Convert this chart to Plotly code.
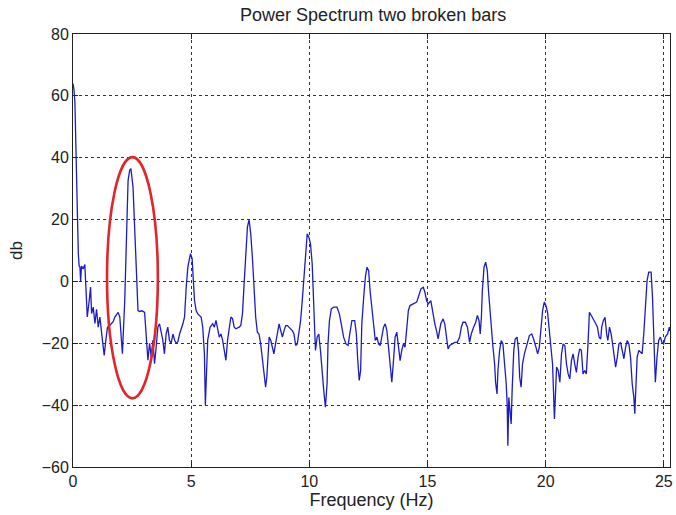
import plotly.graph_objects as go

freq_hz = [
    0.0, 0.04, 0.08, 0.11, 0.155, 0.2, 0.225, 0.26, 0.295, 0.323, 0.36, 0.43, 0.5, 0.548,
    0.604, 0.688, 0.744, 0.786, 0.856, 0.927, 0.997, 1.067, 1.137, 1.207, 1.278, 1.32, 1.39,
    1.46, 1.53, 1.63, 1.70, 1.77, 1.84, 1.91, 1.98, 2.05, 2.09, 2.19, 2.26, 2.30, 2.33, 2.40,
    2.45, 2.54, 2.61, 2.68, 2.75, 2.82, 2.92, 3.03, 3.10, 3.17, 3.24, 3.31, 3.38, 3.45, 3.52,
    3.59, 3.66, 3.73, 3.80, 3.87, 3.94, 4.01, 4.08, 4.15, 4.23, 4.30, 4.37, 4.44, 4.51, 4.65,
    4.72, 4.79, 4.86, 4.97, 5.04, 5.10, 5.14, 5.21, 5.28, 5.42, 5.49, 5.56, 5.60, 5.70, 5.80,
    5.91, 5.98, 6.05, 6.12, 6.19, 6.26, 6.33, 6.40, 6.47, 6.54, 6.61, 6.68, 6.75, 6.82, 6.89,
    7.03, 7.10, 7.17, 7.24, 7.31, 7.38, 7.45, 7.52, 7.59, 7.66, 7.73, 7.80, 7.87, 7.94, 8.01,
    8.08, 8.15, 8.20, 8.25, 8.30, 8.37, 8.44, 8.50, 8.58, 8.65, 8.72, 8.79, 8.86, 8.93, 9.00,
    9.07, 9.14, 9.21, 9.28, 9.35, 9.42, 9.49, 9.56, 9.63, 9.70, 9.77, 9.84, 9.91, 9.98, 10.05,
    10.12, 10.19, 10.26, 10.33, 10.40, 10.47, 10.54, 10.61, 10.68, 10.75, 10.79, 10.85, 10.93,
    11.03, 11.17, 11.27, 11.35, 11.45, 11.55, 11.64, 11.71, 11.80, 11.92, 11.99, 12.04, 12.11,
    12.17, 12.22, 12.30, 12.37, 12.44, 12.51, 12.57, 12.65, 12.72, 12.79, 12.86, 12.93, 13.00,
    13.07, 13.14, 13.21, 13.28, 13.35, 13.42, 13.49, 13.56, 13.63, 13.70, 13.77, 13.84, 13.91,
    13.98, 14.05, 14.12, 14.19, 14.26, 14.40, 14.54, 14.61, 14.72, 14.82, 14.89, 14.96, 15.03,
    15.14, 15.24, 15.31, 15.38, 15.45, 15.56, 15.66, 15.73, 15.80, 15.87, 15.94, 16.04, 16.15,
    16.26, 16.36, 16.43, 16.50, 16.60, 16.69, 16.78, 16.85, 16.95, 17.04, 17.11, 17.18, 17.23,
    17.28, 17.32, 17.39, 17.46, 17.53, 17.58, 17.64, 17.70, 17.77, 17.84, 17.88, 17.94, 17.98,
    18.05, 18.12, 18.19, 18.26, 18.33, 18.37, 18.40, 18.44, 18.48, 18.54, 18.58, 18.65, 18.71,
    18.79, 18.85, 18.90, 18.96, 19.02, 19.10, 19.17, 19.24, 19.31, 19.41, 19.49, 19.59, 19.66,
    19.73, 19.80, 19.87, 19.94, 20.01, 20.08, 20.15, 20.22, 20.29, 20.33, 20.37, 20.42, 20.46,
    20.53, 20.60, 20.67, 20.74, 20.81, 20.88, 20.95, 21.02, 21.09, 21.16, 21.23, 21.30, 21.37,
    21.44, 21.51, 21.58, 21.65, 21.72, 21.79, 21.85, 21.93, 22.02, 22.12, 22.19, 22.26, 22.33,
    22.37, 22.44, 22.51, 22.58, 22.63, 22.70, 22.77, 22.83, 22.89, 22.96, 23.03, 23.10, 23.17,
    23.24, 23.31, 23.38, 23.45, 23.52, 23.59, 23.66, 23.73, 23.77, 23.83, 23.87, 23.94, 24.01,
    24.08, 24.15, 24.22, 24.29, 24.36, 24.46, 24.52, 24.57, 24.64, 24.71, 24.78, 24.85, 24.92,
    24.99, 25.06, 25.16, 25.23, 25.26,
]

power_db = [
    64, 62, 58, 46, 27, 14, 9, 5, 4.6, -0.2, 5, 4, 5.5, -2.3,
    -11.5, -6, -1.8, -10.4, -8.3, -13.6, -9, -14.8, -11.5, -16.4, -21.2, -23.9, -19,
    -14.8, -14.4, -13.7, -13, -11.5, -10.5, -10, -11.5, -19, -23.4, -6, 10, 20.8, 32.6, 36,
    36.5, 30.5, 16.5, 1.4, -9.4, -9.7, -9.5, -10, -16.9, -25.5, -20, -24.4, -19, -26.6, -21.2,
    -14.8, -13.7, -15.9, -19, -23.4, -17, -14.8, -19, -20, -17, -19, -20, -19.5, -17, -13.7,
    -11.5, -1.8, 4.6, 9, 7.4, -0.7, -6, -9.4, -10.5, -11.5, -14.8, -23.4, -40, -19, -14.8,
    -13.7, -14.8, -12.6, -16, -18, -17, -19, -22.3, -25.5, -19, -14.8, -11.5, -12, -14.8, -15.3,
    -14.8, -14.2, -10.5, -0.8, 7.9, 17.6, 20, 15.4, 7.8, -3, -11.6, -16.4, -17, -20.2, -25.6,
    -31, -34.2, -31, -22.3, -18, -19.1, -21.3, -23.4, -19.7, -15.9, -13.7, -15.9, -18, -15.9, -14.3,
    -14.3, -14.8, -15.3, -15.9, -17, -20.7, -20.2, -17, -12.7, -6.2, 0.3, 7.8, 15.4, 14.3, 12.1,
    5.7, -6.2, -22.3, -18, -17, -22.3, -29.9, -35.3, -40.7, -33.1, -20.2, -12.7, -8.9,
    -8.3, -8.3, -10.5, -13.7, -18, -20.2, -20.7, -17, -12.7, -12.7, -17, -24.5, -32,
    -28.8, -13.7, -5.1, 1.4, 4.6, 3.5, -3, -9.4, -15.9, -19.1, -18, -20.2, -20.7,
    -18, -14.8, -13.7, -15.9, -21.3, -26.7, -32.6, -25.6, -18, -16.4, -20.2, -25.6, -22.3,
    -20.2, -21.3, -15.9, -9.4, -7.8, -7.3, -6.7, -5.1, -2.4, -1.9, -3.5, -6.2, -7.3,
    -6.2, -11.6, -13.7, -15.9, -18.6, -13.7, -12.1, -13.7, -18, -21.8, -20.7, -20.2, -19.7,
    -19.7, -18, -14.8, -13.2, -13.2, -14.8, -19.7, -17, -14.8, -13.2, -11, -12.7, -17,
    -11.6, -3, 4.6, 6.2, 3.5, -3, -9.4, -15.9, -21.3, -26.7, -32.6, -36.4, -28.8,
    -22.3, -19.1, -20.2, -25.6, -33.1, -39.6, -53.1, -37.5, -41.7, -46.1, -35.3, -22.3, -18.6,
    -18, -22.3, -31, -34.2, -26.7, -23.4, -21.3, -19.1, -17.5, -17, -18.6, -21.3, -23.4,
    -21.3, -15.9, -9.4, -6.7, -7.8, -10, -15, -22, -26.7, -35.3, -44.5, -35.3, -27.7,
    -28.8, -32.6, -23.4, -20.2, -20.7, -26.7, -29.9, -31.5, -25.6, -23.4, -26.7, -29.4, -24.5,
    -21.8, -22.3, -29.9, -28.8, -29.9, -20.2, -10, -11, -12.1, -13.7, -14.8, -18, -18.6,
    -14.8, -12.7, -11.6, -17, -19.1, -14.8, -17, -20.2, -24.5, -27.7, -24.5, -20.2, -19.7,
    -22.3, -25, -21.3, -19.1, -20.2, -24.5, -33.1, -37.4, -42.8, -31, -24.5, -22.3, -22.9,
    -23.4, -17, -7.3, 0.3, 3, 3, -5.1, -15.9, -32.6, -24.5, -19.1, -18, -19.7,
    -20.2, -18, -17, -14.8, -16,
]

x_ticks = [0, 5, 10, 15, 20, 25]
y_ticks = [-60, -40, -20, 0, 20, 40, 60, 80]
x_range = [0, 25.26]
y_range = [-60, 80]

# highlight ellipse around the 2.5 Hz component
ellipse_x = [1.44, 3.59]
ellipse_y = [-37.8, 40.2]

title_text = "Power Spectrum two broken bars"
x_label = "Frequency (Hz)"
y_label = "db"

fig = go.Figure()
fig.add_trace(go.Scatter(
    x=freq_hz, y=power_db, mode="lines",
    line=dict(color="#1c1cc4", width=1.3),
    showlegend=False, hoverinfo="skip",
))

fig.add_shape(
    type="circle", xref="x", yref="y",
    x0=ellipse_x[0], x1=ellipse_x[1], y0=ellipse_y[0], y1=ellipse_y[1],
    line=dict(color="#e0262b", width=2.6), layer="above",
)

font_family = "Liberation Sans, Arial, sans-serif"
axis_common = dict(
    showline=True, linecolor="#222222", linewidth=1, mirror="allticks",
    ticks="inside", ticklen=5, tickcolor="#222222",
    showgrid=True, gridcolor="#333333", gridwidth=1, griddash="3px,3px",
    zeroline=False,
    tickfont=dict(family=font_family, size=16, color="#222222"),
)

fig.update_layout(
    width=676, height=515,
    margin=dict(l=73, r=3, t=34, b=48),
    paper_bgcolor="white", plot_bgcolor="white",
    title=dict(text=title_text, x=0.552, xanchor="center", y=0.972, yanchor="middle",
               font=dict(family=font_family, size=18, color="#222222")),
    xaxis=dict(range=x_range, tickvals=x_ticks, **axis_common,
               title=dict(text=x_label, standoff=4,
                          font=dict(family=font_family, size=18, color="#222222"))),
    yaxis=dict(range=y_range, tickvals=y_ticks, **axis_common,
               title=dict(text=y_label, standoff=14,
                          font=dict(family=font_family, size=17, color="#222222"))),
)

fig.write_html("out.html")
